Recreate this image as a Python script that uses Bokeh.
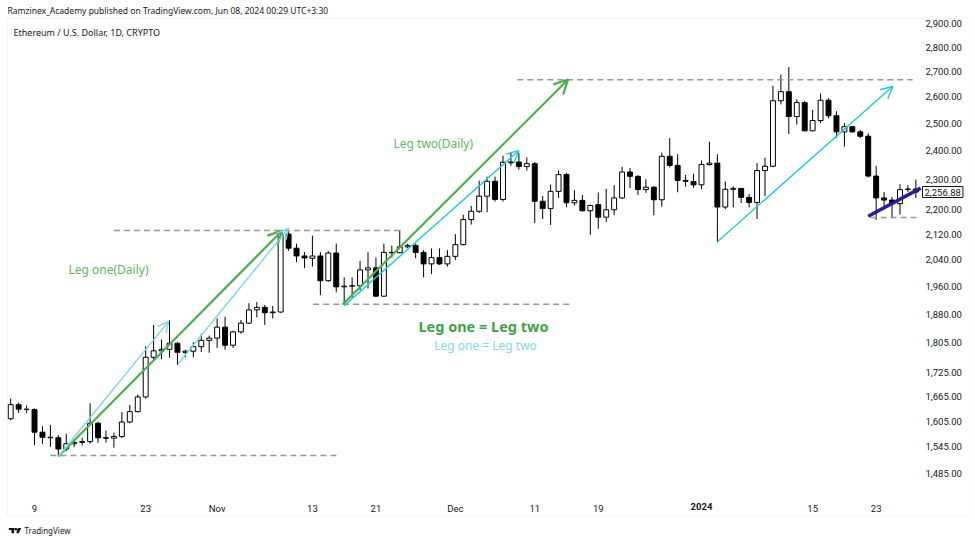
import math
from bokeh.plotting import figure
from bokeh.models import (Range1d, FixedTicker, NumeralTickFormatter, Label, Arrow,
                          OpenHead, ColumnDataSource, BoxAnnotation)
from bokeh.embed import file_html
from bokeh.resources import INLINE

# ---------------- data (ETH/USD daily, day index 0 = 2023-10-06) ----------------
opens = [1611, 1645, 1634, 1633, 1579, 1567, 1566, 1540, 1552, 1555,
         1557, 1600, 1566, 1565, 1569, 1603, 1628, 1664, 1765, 1782,
         1786, 1802, 1778, 1781, 1793, 1810, 1816, 1846, 1797, 1833,
         1857, 1894, 1901, 1886, 1888, 2120, 2076, 2052, 2045, 2052,
         1978, 2061, 1960, 1962, 1963, 2010, 2016, 1933, 2063, 2062,
         2080, 2084, 2063, 2028, 2047, 2028, 2051, 2087, 2166, 2193,
         2243, 2293, 2232, 2357, 2360, 2344, 2354, 2226, 2202, 2259,
         2316, 2221, 2229, 2195, 2215, 2174, 2198, 2237, 2325, 2310,
         2265, 2273, 2231, 2380, 2348, 2296, 2292, 2281, 2351, 2356,
         2207, 2266, 2269, 2239, 2222, 2330, 2345, 2585, 2620, 2525,
         2578, 2472, 2510, 2587, 2528, 2468, 2487, 2468, 2452, 2311,
         2237, 2230, 2218, 2265, 2267]
highs = [1660, 1650, 1643, 1636, 1593, 1596, 1572, 1575, 1563, 1566,
         1648, 1604, 1583, 1578, 1627, 1644, 1670, 1794, 1852, 1812,
         1865, 1806, 1785, 1805, 1828, 1823, 1870, 1875, 1836, 1866,
         1913, 1916, 1908, 1905, 2133, 2132, 2090, 2064, 2115, 2064,
         2067, 2090, 1988, 1988, 2037, 2064, 2047, 2090, 2084, 2133,
         2090, 2090, 2070, 2075, 2075, 2070, 2120, 2182, 2211, 2295,
         2309, 2309, 2382, 2393, 2393, 2376, 2360, 2243, 2282, 2330,
         2322, 2263, 2247, 2215, 2255, 2267, 2280, 2343, 2339, 2314,
         2300, 2276, 2393, 2445, 2387, 2315, 2319, 2365, 2432, 2387,
         2293, 2276, 2270, 2250, 2356, 2375, 2643, 2687, 2718, 2590,
         2585, 2550, 2613, 2595, 2545, 2500, 2490, 2475, 2463, 2346,
         2257, 2240, 2283, 2280, 2299]
lows = [1607, 1625, 1625, 1549, 1552, 1545, 1523, 1535, 1545, 1548,
        1552, 1554, 1555, 1543, 1565, 1600, 1626, 1660, 1755, 1760,
        1764, 1745, 1765, 1765, 1779, 1777, 1790, 1785, 1790, 1828,
        1855, 1873, 1852, 1870, 1886, 2068, 2033, 2015, 2020, 1936,
        1975, 1944, 1908, 1928, 1950, 1955, 1931, 1931, 2047, 2060,
        2076, 2045, 1988, 1998, 2025, 2020, 2040, 2085, 2150, 2188,
        2190, 2225, 2225, 2347, 2333, 2330, 2155, 2168, 2149, 2237,
        2206, 2212, 2192, 2118, 2137, 2158, 2180, 2234, 2270, 2247,
        2254, 2180, 2208, 2341, 2256, 2275, 2271, 2266, 2347, 2094,
        2200, 2206, 2220, 2206, 2168, 2243, 2342, 2571, 2460, 2495,
        2470, 2470, 2500, 2518, 2447, 2415, 2465, 2446, 2306, 2165,
        2200, 2171, 2182, 2257, 2237]
closes = [1645, 1634, 1633, 1579, 1567, 1566, 1540, 1552, 1555, 1557,
          1600, 1566, 1565, 1569, 1603, 1628, 1664, 1765, 1782, 1786,
          1802, 1778, 1781, 1793, 1810, 1816, 1846, 1797, 1833, 1857,
          1894, 1901, 1886, 1888, 2120, 2076, 2052, 2046, 2052, 1978,
          2061, 1960, 1962, 1963, 2010, 2016, 1933, 2063, 2062, 2080,
          2084, 2063, 2028, 2047, 2028, 2051, 2087, 2166, 2193, 2243,
          2293, 2232, 2359, 2360, 2344, 2354, 2226, 2202, 2259, 2316,
          2221, 2229, 2195, 2212, 2174, 2198, 2237, 2325, 2310, 2265,
          2273, 2231, 2380, 2348, 2296, 2293, 2281, 2351, 2356, 2207,
          2266, 2269, 2239, 2222, 2330, 2345, 2585, 2620, 2525, 2578,
          2472, 2510, 2587, 2528, 2468, 2487, 2468, 2452, 2311, 2237,
          2230, 2218, 2265, 2267, 2256.88]
days = list(range(len(opens)))

x_tick_days = [3, 17, 26, 38, 46, 56, 66, 74, 87, 101, 109]
x_tick_labels = ["9", "23", "Nov", "13", "21", "Dec", "11", "19", "2024", "15", "23"]
y_ticks = [1485, 1545, 1605, 1665, 1725, 1805, 1880, 1960, 2040, 2120, 2200,
           2300, 2400, 2500, 2600, 2700, 2800, 2900]
last_price = 2256.88

# drawings: (day, price)
green_x0 = [6.0, 41.8]
green_y0 = [1523, 1909]
green_x1 = [34.2, 70.2]
green_y1 = [2131, 2668]

cyan_light_x0 = [6.0, 21.1]
cyan_light_y0 = [1523, 1748]
cyan_light_x1 = [19.9, 35.0]
cyan_light_y1 = [1862, 2139]

cyan_x0 = [42.0, 89.0]
cyan_y0 = [1906, 2096]
cyan_x1 = [64.0, 111.1]
cyan_y1 = [2400, 2641]

navy_x = [108.0, 114.6]
navy_y = [2177, 2270]

dash_x0 = [5.0, 13.0, 38.1, 63.8, 108.3]
dash_x1 = [41.2, 49.1, 70.5, 113.6, 114.3]
dash_y = [1525, 2131, 1910, 2667, 2173]

# ---------------- layout helpers (reference pixel layout -> data) ----------------
PX_PER_DAY = 7.94
X0_PX = 10.2          # pixel of day 0
LOG_A, LOG_B = 5383.6, 672.4


def xd(px):
    return (px - X0_PX) / PX_PER_DAY


def yp(py):
    return math.exp((LOG_A - py) / LOG_B)


W, H = 975, 543
BR, BB = 7, 7   # right / bottom borders

p = figure(width=W, height=H, y_axis_type="log", y_axis_location="right",
           x_range=Range1d(xd(0), xd(W - BR)), y_range=Range1d(yp(H - BB), yp(0)),
           output_backend="svg", toolbar_location=None)
p.min_border_left = 0
p.min_border_right = BR
p.min_border_top = 0
p.min_border_bottom = BB
p.outline_line_color = None
p.background_fill_color = "white"
p.border_fill_color = "white"
p.xgrid.grid_line_color = None
p.ygrid.grid_line_color = None

FONT = "Noto Sans"
AX_FONT = "Roboto"

# pane border
p.add_layout(BoxAnnotation(left=xd(7), right=xd(968), top=yp(18), bottom=yp(516),
                           fill_alpha=0, line_color="#e0e3eb", line_width=1))

# candles
up = [c >= o for o, c in zip(opens, closes)]
src = ColumnDataSource(dict(
    day=days, high=highs, low=lows,
    top=[max(o, c) for o, c in zip(opens, closes)],
    bottom=[min(o, c) for o, c in zip(opens, closes)],
    fill=["white" if u else "black" for u in up]))
p.segment(x0="day", y0="high", x1="day", y1="low", source=src, line_color="black", line_width=1)
p.vbar(x="day", width=0.62, top="top", bottom="bottom", source=src,
       fill_color="fill", line_color="black", line_width=1)

# dashed levels
p.segment(x0=dash_x0, y0=dash_y, x1=dash_x1, y1=dash_y, line_color="#9598a1",
          line_width=1.5, line_dash="6 4")


def add_arrows(x0, y0, x1, y1, color, lw, size):
    s = ColumnDataSource(dict(x0=x0, y0=y0, x1=x1, y1=y1))
    p.add_layout(Arrow(end=OpenHead(size=size, line_color=color, line_width=lw),
                       x_start="x0", y_start="y0", x_end="x1", y_end="y1",
                       source=s, line_color=color, line_width=lw))


add_arrows(green_x0, green_y0, green_x1, green_y1, "#4caf50", 2.2, 14)
add_arrows(cyan_light_x0, cyan_light_y0, cyan_light_x1, cyan_light_y1, "#7fd6ec", 1.4, 11)
add_arrows(cyan_x0, cyan_y0, cyan_x1, cyan_y1, "#26c6da", 1.4, 12)

p.line(navy_x, navy_y, line_color="#311b92", line_width=3.5)

# axes (labels drawn back into the chart band, as on TradingView)
p.yaxis.ticker = FixedTicker(ticks=y_ticks, minor_ticks=[])
p.yaxis.formatter = NumeralTickFormatter(format="0,0.00")
p.xaxis.ticker = FixedTicker(ticks=x_tick_days, minor_ticks=[])
p.xaxis.major_label_overrides = {d: ("" if l == "2024" else l) for d, l in zip(x_tick_days, x_tick_labels)}
for ax in (p.xaxis[0], p.yaxis[0]):
    ax.axis_line_color = None
    ax.major_tick_line_color = None
    ax.minor_tick_line_color = None
    ax.major_tick_out = 0
    ax.major_tick_in = 0
    ax.major_label_text_font = AX_FONT
    ax.major_label_text_font_size = "9.5px"
    ax.major_label_text_color = "#131722"
p.xaxis.major_label_standoff = -34
p.yaxis.major_label_standoff = 925 - (W - BR)


def lab(x, y, text, size, color, font=FONT, style="normal", align="left", baseline="middle", **kw):
    p.add_layout(Label(x=x, y=y, text=text, text_font=font, text_font_size=size,
                       text_color=color, text_font_style=style, text_align=align,
                       text_baseline=baseline, **kw))


lab(87, yp(506), "2024", "9.5px", "#131722", font=AX_FONT, style="bold", align="center")
lab(xd(7), yp(10), "Ramzinex_Academy published on TradingView.com, Jun 08, 2024 00:29 UTC+3:30", "8.5px", "#131722")
lab(xd(13), yp(32), "Ethereum / U.S. Dollar, 1D, CRYPTO", "9px", "#131722")
lab(xd(24), yp(530), "TradingView", "8px", "#131722")

# small TradingView logo mark
p.quad(left=[xd(8.3), xd(11.0)], right=[xd(14.0), xd(13.6)],
       top=[yp(527.6), yp(527.6)], bottom=[yp(529.6), yp(532.8)],
       fill_color="#131722", line_color=None)
p.scatter([xd(15.4)], [yp(528.8)], size=2.6, fill_color="#131722", line_color=None)
p.patch([xd(17.2), xd(20.8), xd(18.2), xd(15.8)],
        [yp(527.6), yp(527.6), yp(532.8), yp(532.8)],
        fill_color="#131722", line_color=None)

lab(xd(68), yp(269), "Leg one(Daily)", "12px", "#5cb85c")
lab(xd(393), yp(143), "Leg two(Daily)", "12px", "#5cb85c")
lab(xd(483), yp(325), "Leg one = Leg two", "14.5px", "#43a047", style="bold", align="center")
lab(xd(485), yp(345), "Leg one = Leg two", "12px", "#7fdbe9", align="center")

p.add_layout(Label(x=xd(922), y=last_price, text=f"{last_price:,.2f}", text_font=AX_FONT,
                   text_font_size="9.5px", text_color="#131722", text_baseline="middle",
                   border_line_color="#131722", background_fill_color="white",
                   padding=2))

open("out.html", "w").write(file_html(p, INLINE))
